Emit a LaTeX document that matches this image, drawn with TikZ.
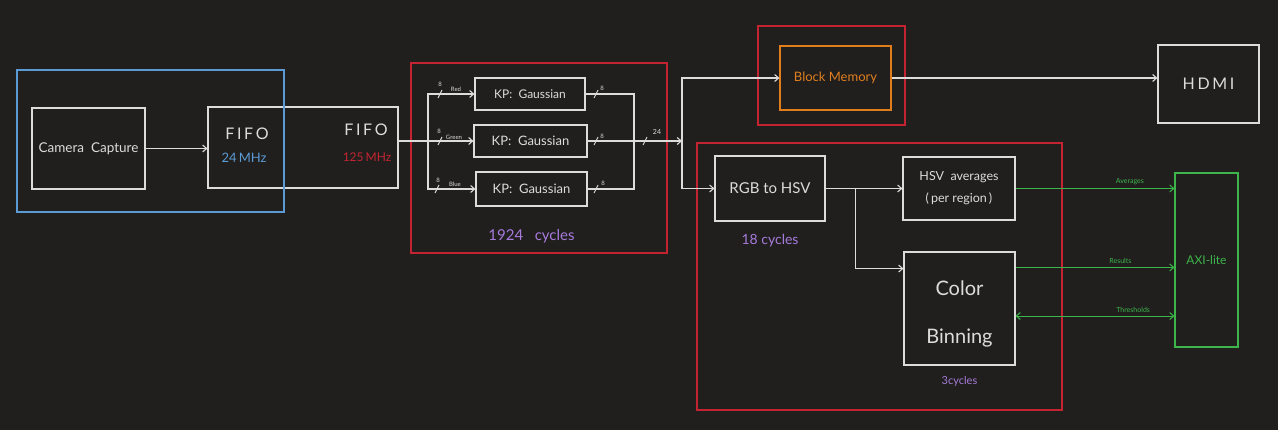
\documentclass[tikz,border=0pt]{standalone}
\usepackage{fontspec}
\setmainfont{Lato}
\usepackage{tikz}
\usetikzlibrary{arrows.meta}
\usetikzlibrary{positioning}
\usetikzlibrary{calc}
\definecolor{bg}{HTML}{201F1E}
\definecolor{fg}{HTML}{DCDCDC}
\definecolor{grpblue}{HTML}{5B9BD5}
\definecolor{grpred}{HTML}{C42431}
\definecolor{memorange}{HTML}{E07E1E}
\definecolor{axigreen}{HTML}{3DB54A}
\definecolor{cyclepurple}{HTML}{A77BDB}
\tikzstyle{block}=[draw=fg,rectangle,inner sep=0pt,text=fg,font=\fontsize{12}{14}\selectfont]
\tikzstyle{txt}=[text=fg,inner sep=0pt,font=\fontsize{12}{14}\selectfont]
\tikzstyle{buslbl}=[text=fg,inner sep=0pt,font=\fontsize{6}{7}\selectfont]
\tikzstyle{cyc}=[text=cyclepurple,inner sep=0pt,font=\fontsize{14}{16}\selectfont]

\begin{document}
\begin{tikzpicture}[x=1pt,y=-1pt,line width=1.1pt,draw=fg,
  >={Straight Barb[length=4pt,width=7pt]},
  group/.style={line width=1.1pt},
  axilink/.style={draw=axigreen,line width=1pt},
  axilbl/.style={text=axigreen,inner sep=0pt,font=\fontsize{7}{8}\selectfont,above=3pt}]
\fill[bg] (0,0) rectangle (1278,430);
\useasboundingbox (0,0) rectangle (1278,430);

\node [block,minimum width=113pt,minimum height=81pt,font=\fontsize{13.5}{15}\selectfont] (cam) at (88.5,148.5) {Camera\ \ Capture};
\node [block,minimum width=190pt,minimum height=81pt] (fifo) at (303,147.5) {};
\node [txt,font=\fontsize{16}{18}\selectfont] (fifoa) at (247,134) {F\,I\,F\,O};
\node [txt,text=grpblue,font=\fontsize{13}{15}\selectfont] (clka) at (244,158) {24\,MHz};
\node [txt,font=\fontsize{16}{18}\selectfont] (fifob) at (366,130) {F\,I\,F\,O};
\node [txt,text=grpred,font=\fontsize{12}{14}\selectfont] (clkb) at (367,157) {125\,MHz};
\draw [group,grpblue] (17,70) rectangle (284,212);
\draw [->] (cam.east) -- (cam.east -| fifo.west);

\draw [group,grpred] (411,63) rectangle (667,253);
\coordinate (split) at (428,141);
\coordinate (merge) at (634,141);
\coordinate (tap) at (682,141);
\node [block,minimum width=110pt,minimum height=32pt] (k1) at (530,94) {KP:\ \ Gaussian};
\node [block,minimum width=113pt,minimum height=32pt,font=\fontsize{13}{15}\selectfont] (k2) at (530.5,141) {KP:\ \ Gaussian};
\node [block,minimum width=111pt,minimum height=34pt,font=\fontsize{13}{15}\selectfont] (k3) at (531.5,189) {KP:\ \ Gaussian};
\draw (fifo.east |- split) -- (split);
\draw [->] (split) |- (k1.west);
\draw [->] (split) -- (k2.west);
\draw [->] (split) |- (k3.west);
\draw (k1.east) -| (merge);
\draw (k3.east) -| (merge);
\draw [->] (k2.east) -- (tap);
\foreach \tx/\ty in {440/94,440/141,437/189,596/94,596/141,596/189,645/141}
  \draw [line width=0.9pt] (\tx-2,\ty+4) -- (\tx+2,\ty-4);
\node [buslbl] (w1) at (440,84) {8};
\node [buslbl] (w2) at (439,131) {8};
\node [buslbl] (w3) at (438,180) {8};
\node [buslbl] (nred) at (456,89) {Red};
\node [buslbl] (ngreen) at (454,137) {Green};
\node [buslbl] (nblue) at (455,184) {Blue};
\node [buslbl] (o1) at (602,88) {8};
\node [buslbl] (o2) at (602,136) {8};
\node [buslbl] (o3) at (603,183) {8};
\node [buslbl,font=\fontsize{7}{8}\selectfont] (o4) at (657,132) {24};
\node [cyc, below=22pt of k3, font=\fontsize{15}{17}\selectfont] (cyc1) {1924\ \ \ cycles};

\draw [group,grpred] (758,26) rectangle (905,125);
\node [block,draw=memorange,text=memorange,minimum width=111pt,minimum height=64pt,font=\fontsize{13}{15}\selectfont] (bram) at (835.5,78) {Block Memory};
\node [block,minimum width=101pt,minimum height=78pt,font=\fontsize{16}{18}\selectfont] (hdmi) at (1208.5,84) {H\,D\,M\,I};
\draw [->] (tap) |- (bram.west);
\draw [->] (bram.east) -- (bram.east -| hdmi.west);

\draw [group,grpred] (697,143) rectangle (1062,410);
\node [block,minimum width=110pt,minimum height=65pt,font=\fontsize{15}{17}\selectfont] (rgb) at (770,188.5) {RGB to HSV};
\node [block,minimum width=112pt,minimum height=63pt,align=center,font=\fontsize{12.5}{14}\selectfont] (hsv) at (959,188.5) {HSV\ \ averages\\[8pt](\,per region\,)};
\node [block,minimum width=111pt,minimum height=113pt] (bin) at (959.5,308.5) {};
\node [txt,align=center,font=\fontsize{20}{22}\selectfont] (bintxt) at ($(bin)+(0,5)$) {Color\\[26pt]Binning};
\node [block,draw=axigreen,text=axigreen,minimum width=63pt,minimum height=174pt,font=\fontsize{12}{14}\selectfont] (axi) at (1206.5,260) {AXI-lite};
\coordinate (branch) at ($(rgb.east)+(30,0)$);
\coordinate (binin) at ($(bin.north west)!0.15!(bin.south west)$);
\coordinate (binres) at ($(bin.north east)!0.14!(bin.south east)$);
\coordinate (binth) at ($(bin.north east)!0.566!(bin.south east)$);
\draw [->] (tap) |- (rgb.west);
\draw [->] (rgb.east) -- (hsv.west);
\draw [->] (branch) |- (binin);
\node [cyc, below=12pt of rgb] (cyc2) {18 cycles};
\node [cyc, below=10pt of bin, font=\fontsize{11}{13}\selectfont] (cyc3) {3cycles};

\draw [axilink,->] (hsv.east) -- (hsv.east -| axi.west) node [axilbl,pos=0.72] (lavg) {Averages};
\draw [axilink,->] (binres) -- (binres -| axi.west) node [axilbl,pos=0.66] (lres) {Results};
\draw [axilink,<->] (binth) -- (binth -| axi.west) node [axilbl,pos=0.74] (lth) {Thresholds};
\end{tikzpicture}
\end{document}
